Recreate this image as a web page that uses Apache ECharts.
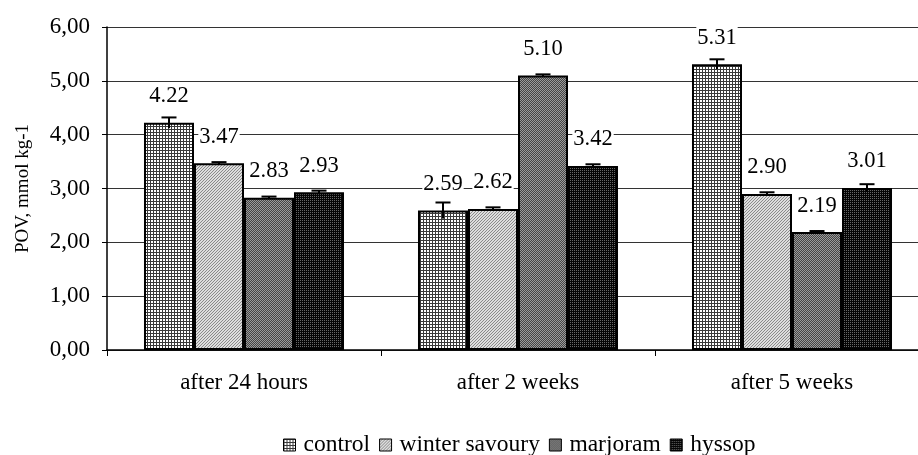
<!DOCTYPE html>
<html>
<head>
<meta charset="utf-8">
<script src="https://cdn.jsdelivr.net/npm/echarts@6/dist/echarts.min.js"></script>
<style>html,body{margin:0;padding:0;background:#fff;}#c{width:918px;height:455px;}</style>
</head>
<body>
<div id="c"></div>
<script>
const categories = ['after 24 hours', 'after 2 weeks', 'after 5 weeks'];
const seriesNames = ['control', 'winter savoury', 'marjoram', 'hyssop'];
const control = [4.22, 2.59, 5.31];
const winterSavoury = [3.47, 2.62, 2.90];
const marjoram = [2.83, 5.10, 2.19];
const hyssop = [2.93, 3.42, 3.01];
const controlErr = [0.10, 0.15, 0.09];
const winterSavouryErr = [0.02, 0.03, 0.03];
const marjoramErr = [0.02, 0.02, 0.02];
const hyssopErr = [0.03, 0.03, 0.07];
const yTicks = [0, 1, 2, 3, 4, 5, 6];

const values = [control, winterSavoury, marjoram, hyssop];
const errors = [controlErr, winterSavouryErr, marjoramErr, hyssopErr];

function pat(w, h, bg, fg, pixels) {
  const c = document.createElement('canvas');
  c.width = w; c.height = h;
  const x = c.getContext('2d');
  x.fillStyle = bg; x.fillRect(0, 0, w, h);
  x.fillStyle = fg;
  pixels.forEach(p => x.fillRect(p[0], p[1], 1, 1));
  return c;
}
const patterns = [
  pat(3, 3, '#ffffff', '#3a3a3a', [[0,0],[1,0],[2,0],[0,1],[0,2]]),
  pat(3, 3, '#dedede', '#8a8a8a', [[0,2],[1,1],[2,0]]),
  pat(2, 2, '#444444', '#9a9a9a', [[0,0],[1,1]]),
  pat(2, 2, '#050505', '#666666', [[0,0]])
];

const FONT = 'Liberation Serif';
const GAP = 0.27;

const barSeries = seriesNames.map((name, i) => ({
  name: name,
  type: 'bar',
  data: values[i],
  barGap: '0%',
  barCategoryGap: (GAP * 100) + '%',
  itemStyle: { color: { image: patterns[i], repeat: 'repeat' }, borderColor: '#000', borderWidth: 2 },
  label: {
    show: true, position: 'top', distance: 15,
    formatter: p => p.value.toFixed(2),
    fontFamily: FONT, fontSize: 22.5, color: '#000',
    backgroundColor: '#fff', padding: [0, 1]
  },
  z: 2
}));

const errData = [];
values.forEach((arr, s) => arr.forEach((v, c) => errData.push([c, s, v, errors[s][c]])));

const errSeries = {
  type: 'custom',
  name: 'err',
  data: errData,
  encode: { x: 0, y: 2 },
  z: 5,
  silent: true,
  renderItem: function (params, api) {
    const cat = api.value(0), s = api.value(1), v = api.value(2), e = api.value(3);
    const band = api.size([1, 0])[0];
    const bw = band * (1 - GAP) / 4;
    const cx = api.coord([cat, 0])[0] + (s - 1.5) * bw;
    const yTop = api.coord([cat, v + e])[1];
    const yBot = api.coord([cat, v - e])[1];
    return {
      type: 'group',
      children: [
        { type: 'line', shape: { x1: cx, y1: yTop, x2: cx, y2: yBot }, style: { stroke: '#000', lineWidth: 2 } },
        { type: 'line', shape: { x1: cx - 7.5, y1: yTop, x2: cx + 7.5, y2: yTop }, style: { stroke: '#000', lineWidth: 2 } }
      ]
    };
  }
};

const chart = echarts.init(document.getElementById('c'), null, { renderer: 'canvas' });
chart.setOption({
  animation: false,
  backgroundColor: '#fff',
  textStyle: { fontFamily: FONT },
  grid: { left: 107, top: 27, width: 822, height: 323, outerBoundsMode: 'none', containLabel: false },
  legend: {
    data: seriesNames,
    left: 283, top: 433, padding: 0,
    icon: 'rect', itemWidth: 12, itemHeight: 12, itemGap: 9,
    textStyle: { fontFamily: FONT, fontSize: 23.5, color: '#000', padding: [0, 0, 0, 3] },
    itemStyle: { borderColor: '#000', borderWidth: 1 }
  },
  xAxis: {
    type: 'category',
    data: categories,
    axisLine: { lineStyle: { color: '#000', width: 1.5 } },
    axisTick: { show: true, length: 6, lineStyle: { color: '#000' } },
    axisLabel: { fontFamily: FONT, fontSize: 23, color: '#000', margin: 21 }
  },
  yAxis: {
    type: 'value',
    min: yTicks[0], max: yTicks[yTicks.length - 1], interval: 1,
    name: 'POV, mmol kg-1',
    nameLocation: 'middle', nameRotate: 90, nameGap: 74,
    nameTextStyle: { fontFamily: FONT, fontSize: 19, color: '#000' },
    axisLine: { show: true, lineStyle: { color: '#000', width: 1.5 } },
    axisTick: { show: true, inside: false, length: 5, lineStyle: { color: '#000' } },
    axisLabel: { fontFamily: FONT, fontSize: 23, color: '#000', margin: 17, formatter: v => v.toFixed(2).replace('.', ',') },
    splitLine: { show: true, lineStyle: { color: '#333', width: 1 } }
  },
  series: barSeries.concat([errSeries])
});
</script>
</body>
</html>
